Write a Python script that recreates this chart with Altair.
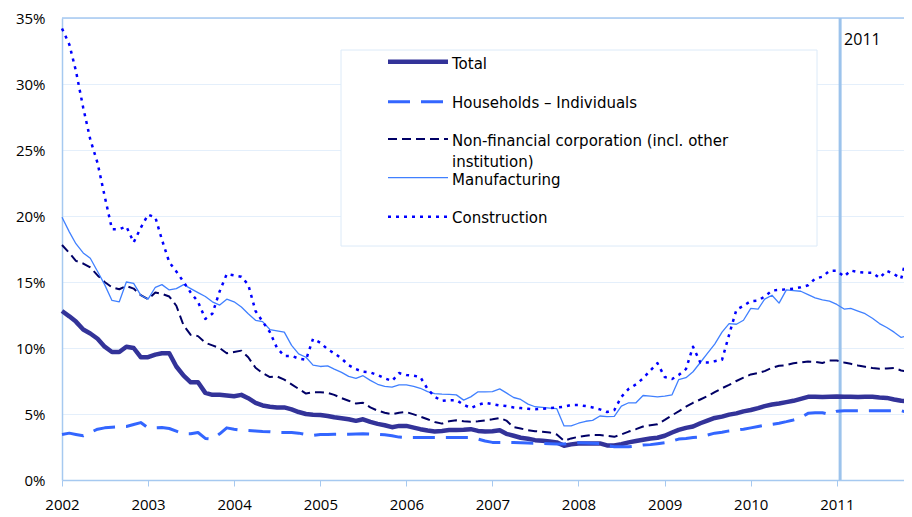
import altair as alt
import pandas as pd

# ---------------- data (monthly, Jan 2002 - Nov 2011), % ----------------
start_month = "2002-01-01"
n_months = 119

series_names = [
    "Total",
    "Households – Individuals",
    "Non-financial corporation (incl. other institution)",
    "Manufacturing",
    "Construction",
]
# legend text as drawn (lines)
legend_lines = [
    ["Total"],
    ["Households – Individuals"],
    ["Non-financial corporation (incl. other", "institution)"],
    ["Manufacturing"],
    ["Construction"],
]

total = [
    12.8, 12.4, 12.0, 11.4, 11.1, 10.7, 10.1, 9.7, 9.7, 10.1,
    10.0, 9.3, 9.3, 9.5, 9.6, 9.6, 8.6, 7.9, 7.4, 7.4,
    6.6, 6.45, 6.45, 6.4, 6.35, 6.45, 6.2, 5.85, 5.65, 5.55,
    5.5, 5.5, 5.35, 5.15, 5.0, 4.95, 4.93, 4.85, 4.75, 4.68,
    4.6, 4.48, 4.6, 4.4, 4.25, 4.15, 4.0, 4.1, 4.1, 3.97,
    3.85, 3.75, 3.68, 3.72, 3.78, 3.78, 3.8, 3.85, 3.72, 3.68,
    3.7, 3.77, 3.5, 3.35, 3.2, 3.12, 3.02, 2.98, 2.92, 2.85,
    2.6, 2.7, 2.77, 2.77, 2.77, 2.77, 2.62, 2.62, 2.72, 2.85,
    2.95, 3.05, 3.15, 3.2, 3.35, 3.6, 3.8, 3.95, 4.05, 4.3,
    4.5, 4.7, 4.8, 4.95, 5.05, 5.2, 5.3, 5.45, 5.6, 5.72,
    5.8, 5.9, 6.0, 6.15, 6.3, 6.3, 6.28, 6.3, 6.33, 6.3,
    6.3, 6.28, 6.3, 6.3, 6.25, 6.22, 6.1, 6.0, 5.98,
]

households = [
    3.45, 3.55, 3.45, 3.35, 3.6, 3.85, 3.95, 4.0, 4.02, 4.05,
    4.2, 4.35, 3.95, 3.95, 3.97, 3.9, 3.7, 3.5, 3.5, 3.6,
    3.15, 3.1, 3.5, 3.95, 3.85, 3.77, 3.75, 3.72, 3.67, 3.65,
    3.6, 3.6, 3.6, 3.55, 3.45, 3.38, 3.45, 3.45, 3.47, 3.47,
    3.47, 3.48, 3.5, 3.48, 3.45, 3.42, 3.35, 3.25, 3.22, 3.22,
    3.22, 3.22, 3.22, 3.22, 3.22, 3.22, 3.22, 3.22, 3.1, 2.95,
    2.85, 2.85, 2.85, 2.85, 2.82, 2.8, 2.78, 2.77, 2.75, 2.73,
    2.72, 2.8, 2.82, 2.8, 2.78, 2.77, 2.6, 2.52, 2.52, 2.52,
    2.58, 2.65, 2.68, 2.75, 2.82, 2.95, 3.1, 3.15, 3.22, 3.27,
    3.4, 3.55, 3.62, 3.72, 3.78, 3.85, 3.95, 4.05, 4.15, 4.22,
    4.3, 4.42, 4.55, 4.72, 5.05, 5.1, 5.1, 4.97, 5.2, 5.25,
    5.25, 5.25, 5.25, 5.25, 5.25, 5.25, 5.25, 5.25, 5.1,
]

non_financial = [
    17.8, 17.2, 16.6, 16.4, 16.1, 15.5, 15.0, 14.6, 14.45, 14.7,
    14.5, 14.0, 13.7, 14.2, 14.1, 13.9, 13.2, 11.7, 11.0, 10.9,
    10.4, 10.2, 10.0, 9.6, 9.7, 9.8, 9.3, 8.5, 8.1, 7.8,
    7.85, 7.6, 7.25, 6.9, 6.55, 6.65, 6.65, 6.6, 6.45, 6.2,
    6.0, 5.8, 5.85, 5.5, 5.25, 5.1, 4.97, 5.1, 5.15, 4.97,
    4.8, 4.6, 4.4, 4.27, 4.45, 4.52, 4.45, 4.42, 4.45, 4.52,
    4.6, 4.7, 4.5, 4.0, 3.9, 3.77, 3.7, 3.65, 3.6, 3.45,
    2.97, 3.15, 3.27, 3.35, 3.42, 3.4, 3.35, 3.27, 3.45, 3.67,
    3.85, 4.05, 4.15, 4.22, 4.55, 4.9, 5.2, 5.55, 5.85, 6.1,
    6.35, 6.65, 6.95, 7.2, 7.5, 7.75, 8.0, 8.1, 8.25, 8.5,
    8.65, 8.7, 8.85, 8.9, 8.98, 8.95, 8.86, 9.05, 9.05, 8.9,
    8.8, 8.68, 8.58, 8.48, 8.43, 8.45, 8.48, 8.3, 8.2,
]

manufacturing = [
    19.9, 18.8, 17.9, 17.2, 16.8, 15.8, 14.8, 13.6, 13.5, 15.0,
    14.9, 14.0, 13.7, 14.6, 14.8, 14.4, 14.5, 14.8, 14.5, 14.2,
    13.9, 13.5, 13.25, 13.7, 13.5, 13.1, 12.6, 12.1, 12.0, 11.4,
    11.3, 11.2, 10.2, 9.55, 9.3, 8.7, 8.6, 8.65, 8.4, 8.15,
    7.85, 7.7, 7.9, 7.55, 7.25, 7.1, 7.03, 7.2, 7.2, 7.1,
    6.95, 6.7, 6.55, 6.5, 6.48, 6.45, 6.05, 6.3, 6.68, 6.68,
    6.7, 6.9, 6.6, 6.25, 6.1, 5.75, 5.55, 5.5, 5.45, 5.4,
    4.1, 4.1, 4.3, 4.45, 4.52, 4.85, 4.8, 4.82, 5.6, 5.85,
    5.85, 6.4, 6.35, 6.3, 6.35, 6.45, 7.6, 7.75, 8.2, 8.9,
    9.6, 10.3, 11.2, 11.85, 11.8, 12.1, 13.0, 12.95, 13.7, 14.0,
    13.4, 14.4, 14.35, 14.3, 14.05, 13.8, 13.65, 13.55, 13.3, 12.95,
    13.0, 12.8, 12.6, 12.25, 11.85, 11.55, 11.2, 10.8, 10.95,
]

construction = [
    34.2, 33.0, 31.0, 28.2, 25.8, 24.0, 21.5, 19.0, 19.0, 19.2,
    18.0, 19.1, 20.1, 19.9, 18.2, 16.5, 15.8, 15.0, 14.2, 13.5,
    12.2, 12.6, 14.3, 15.6, 15.5, 15.4, 14.8, 12.8, 12.0, 11.2,
    10.0, 9.4, 9.4, 9.2, 9.1, 10.7, 10.4, 9.9, 9.6, 9.2,
    8.7, 8.4, 8.2, 8.15, 7.95, 7.7, 7.5, 8.1, 7.95, 7.9,
    7.8, 6.9, 6.3, 6.0, 6.05, 6.05, 5.7, 5.45, 5.7, 5.85,
    5.75, 5.65, 5.6, 5.5, 5.45, 5.4, 5.35, 5.4, 5.45, 5.5,
    5.55, 5.68, 5.68, 5.6, 5.5, 5.35, 5.15, 5.3, 6.3, 6.9,
    7.25, 7.7, 8.3, 8.85, 7.8, 7.65, 7.95, 8.4, 10.1, 8.9,
    8.9, 9.0, 9.1, 11.0, 12.9, 13.2, 13.55, 13.6, 13.9, 14.35,
    14.4, 14.45, 14.5, 14.6, 14.75, 15.25, 15.4, 15.85, 15.85, 15.42,
    15.87, 15.75, 15.7, 15.7, 15.3, 15.85, 15.6, 15.25, 17.4,
]

y_ticks = [0, 5, 10, 15, 20, 25, 30, 35]
x_domain = ["2002-01-01T00:00:00", "2011-10-13T00:00:00"]
marker_date = "2011-01-15T00:00:00"
marker_label = "2011"

# ---------------- styles ----------------
FONT = "Open Sans"
LEGEND_FONT = "DejaVu Sans"
styles = {
    "Total": dict(color="#333399", strokeWidth=4.5),
    "Households – Individuals": dict(color="#3366FF", strokeWidth=3, strokeDash=[22, 11]),
    "Non-financial corporation (incl. other institution)": dict(color="#000066", strokeWidth=2, strokeDash=[9, 5]),
    "Manufacturing": dict(color="#4080FF", strokeWidth=1.3),
    "Construction": dict(color="#0000FF", strokeWidth=2.5, strokeDash=[3, 5]),
}

AXIS_BLUE = "#A6C9F0"
GRID_BLUE = "#E4EFFB"
PLOT_W, PLOT_H = 842, 462

dates = pd.date_range(start_month, periods=n_months, freq="MS")
values = [total, households, non_financial, manufacturing, construction]

x_axis = alt.Axis(
    format="%Y", tickCount={"interval": "year", "step": 1}, grid=False,
    domainColor=AXIS_BLUE, domainWidth=1.5, tickColor=AXIS_BLUE, tickSize=6,
    labelFont=FONT, labelFontSize=15, labelColor="#000000", labelPadding=11,
    labelFlush=False, labelOverlap=False, title=None,
)
x_scale = alt.Scale(domain=x_domain)
y_axis = alt.Axis(
    values=y_ticks, labelExpr="datum.value + '%'", ticks=False,
    domainColor=AXIS_BLUE, domainWidth=1.5, gridColor=GRID_BLUE, grid=True,
    labelFont=FONT, labelFontSize=15, labelColor="#000000", labelPadding=17,
    title=None,
)
y_scale = alt.Scale(domain=[0, 35], nice=False)

one_row = alt.InlineData(values=[{"k": 1}])

layers = []

# top border of the plot area
layers.append(
    alt.Chart(one_row).mark_rule(color=AXIS_BLUE, strokeWidth=1.5).encode(
        x=alt.value(0), x2=alt.value(PLOT_W + 20), y=alt.value(0)
    )
)

# legend box
layers.append(
    alt.Chart(one_row).mark_rect(fill="white", stroke="#DCEAF8", strokeWidth=1).encode(
        x=alt.value(279), x2=alt.value(755), y=alt.value(32), y2=alt.value(228)
    )
)

# 2011 marker line + label
marker_df = pd.DataFrame({"d": [pd.Timestamp(marker_date)], "t": [marker_label]})
layers.append(
    alt.Chart(marker_df).mark_rule(color="#9CC3EC", strokeWidth=3).encode(
        x=alt.X("d:T", axis=x_axis, scale=x_scale),
        y=alt.value(0), y2=alt.value(PLOT_H),
    )
)
layers.append(
    alt.Chart(marker_df).mark_text(
        align="left", baseline="middle", font=FONT, fontSize=16, color="#000000", dx=4
    ).encode(
        x=alt.X("d:T", axis=x_axis, scale=x_scale),
        y=alt.value(22), text=alt.Text("t:N"),
    )
)

for name, vals in zip(series_names, values):
    df = pd.DataFrame({"date": dates, "value": vals, "series": name})
    st = styles[name]
    layers.append(
        alt.Chart(df).mark_line(strokeJoin="round", clip=False, **st).encode(
            x=alt.X("date:T", axis=x_axis, scale=x_scale),
            y=alt.Y("value:Q", axis=y_axis, scale=y_scale),
        )
    )

# custom legend
sym_y = [43.7, 83.7, 121, 159.7, 198.7]
txt_y = [[46], [84.7], [122.5, 143.5], [162], [199.7]]
for name, lines, sy, tys in zip(series_names, legend_lines, sym_y, txt_y):
    st = styles[name]
    layers.append(
        alt.Chart(one_row).mark_rule(**st).encode(
            x=alt.value(326), x2=alt.value(386), y=alt.value(sy)
        )
    )
    for line, ty in zip(lines, tys):
        layers.append(
            alt.Chart(alt.InlineData(values=[{"t": line}])).mark_text(
                align="left", baseline="middle", font=LEGEND_FONT, fontSize=15,
                color="#000000",
            ).encode(x=alt.value(390), y=alt.value(ty), text=alt.Text("t:N"))
        )

chart = alt.layer(*layers).properties(
    width=PLOT_W, height=PLOT_H,
    autosize=alt.AutoSizeParams(type="none"),
    padding={"left": 54, "top": 10, "right": 0, "bottom": 37},
).configure_view(stroke=None)

chart.save("out.html", embed_options={"renderer": "svg", "actions": False})
